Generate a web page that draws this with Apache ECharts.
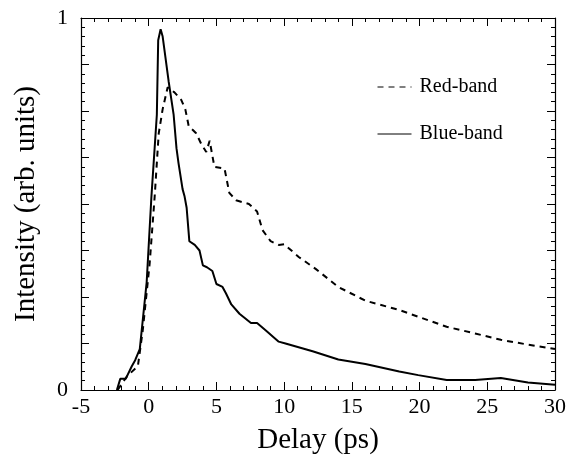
<!DOCTYPE html>
<html>
<head>
<meta charset="utf-8">
<script src="https://cdn.jsdelivr.net/npm/echarts@6/dist/echarts.min.js"></script>
<style>html,body{margin:0;padding:0;background:#fff;}#c{width:569px;height:460px;}</style>
</head>
<body>
<div id="c"></div>
<script>
// Delay (ps) and intensity (arb. units)
const blueX = [-2.35,-2.1,-1.7,-1.25,-1.0,-0.66,-0.15,0.2,0.6,0.7,0.88,1.03,1.47,1.84,2.05,2.2,2.5,2.65,2.8,3.0,3.4,3.75,4.0,4.3,4.7,5.0,5.45,5.7,6.1,6.7,7.55,8.0,8.65,9.6,10.1,12.1,14.0,16.0,18.5,19.9,22.0,24.1,26.0,28.0,30.0];
const blueY = [0,0.03,0.03,0.064,0.08,0.11,0.29,0.52,0.74,0.94,0.97,0.95,0.83,0.74,0.65,0.61,0.54,0.52,0.49,0.40,0.39,0.375,0.335,0.33,0.32,0.285,0.277,0.26,0.23,0.205,0.18,0.18,0.16,0.13,0.125,0.104,0.082,0.07,0.05,0.04,0.027,0.027,0.032,0.02,0.014];
const redX = [-2.3,-1.6,-0.8,-0.44,0.07,0.44,0.74,1.03,1.4,1.9,2.4,2.7,2.95,3.5,3.9,4.25,4.5,4.85,5.6,5.95,6.45,7.4,8.0,8.4,9.0,9.6,10.0,11.1,12.35,14.0,16.0,18.5,19.9,22.0,24.1,26.0,28.0,30.0];
const redY = [0,0.037,0.064,0.16,0.34,0.52,0.69,0.755,0.814,0.80,0.78,0.755,0.71,0.69,0.66,0.64,0.67,0.60,0.595,0.53,0.51,0.50,0.48,0.43,0.40,0.39,0.392,0.357,0.325,0.277,0.24,0.215,0.197,0.17,0.152,0.135,0.122,0.11];
const xTicks = [-5,0,5,10,15,20,25,30];
const yLabels = {0:'0', 1:'1'};

const font = 'Liberation Serif';
const zip = (xs, ys) => xs.map((x, i) => [x, ys[i]]);
const chart = echarts.init(document.getElementById('c'), null, {renderer:'canvas'});
const axisLine = {show:true, onZero:false, lineStyle:{color:'#000', width:1.2}};
const xCommon = {type:'value', min:xTicks[0], max:xTicks[xTicks.length-1], interval:5,
  axisLine, axisTick:{show:true, inside:true, length:8, lineStyle:{color:'#000'}},
  minorTick:{show:true, splitNumber:5, length:4, lineStyle:{color:'#000'}},
  splitLine:{show:false}};
const yCommon = {type:'value', min:0, max:1, interval:0.125,
  axisLine, axisTick:{show:true, inside:true, length:8, lineStyle:{color:'#000'}},
  minorTick:{show:true, splitNumber:5, length:4, lineStyle:{color:'#000'}},
  splitLine:{show:false}};
chart.setOption({
  animation:false,
  backgroundColor:'#fff',
  grid:{left:81, right:12, top:18, bottom:66},
  legend:{
    orient:'vertical', left:372, top:72, itemGap:27, itemWidth:34, itemHeight:10,
    data:['Red-band','Blue-band'],
    itemStyle:{opacity:0},
    lineStyle:{width:1},
    textStyle:{fontFamily:font, fontSize:20, color:'#000', padding:[0,0,0,3]}
  },
  xAxis:[
    Object.assign({}, xCommon, {position:'bottom', name:'Delay (ps)', nameLocation:'middle', nameGap:36,
      nameTextStyle:{fontFamily:font, fontSize:29, color:'#000'},
      axisLabel:{show:true, margin:6, fontFamily:font, fontSize:22, color:'#000',
        formatter:v => xTicks.includes(v) ? String(v) : ''}}),
    Object.assign({}, xCommon, {position:'top', axisLabel:{show:false}})
  ],
  yAxis:[
    Object.assign({}, yCommon, {position:'left', name:'Intensity (arb. units)', nameLocation:'middle', nameGap:40,
      nameTextStyle:{fontFamily:font, fontSize:29, color:'#000'},
      axisLabel:{show:true, margin:13, fontFamily:font, fontSize:22, color:'#000',
        formatter:v => (yLabels[v] !== undefined ? yLabels[v] : '')}}),
    Object.assign({}, yCommon, {position:'right', axisLabel:{show:false}})
  ],
  series:[
    {name:'Red-band', type:'line', data:zip(redX, redY), symbol:'none', smooth:false,
      lineStyle:{color:'#000', width:2, type:[6,5]}, itemStyle:{color:'#000'}},
    {name:'Blue-band', type:'line', data:zip(blueX, blueY), symbol:'none', smooth:false,
      lineStyle:{color:'#000', width:2, type:'solid'}, itemStyle:{color:'#000'}}
  ]
});
</script>
</body>
</html>
